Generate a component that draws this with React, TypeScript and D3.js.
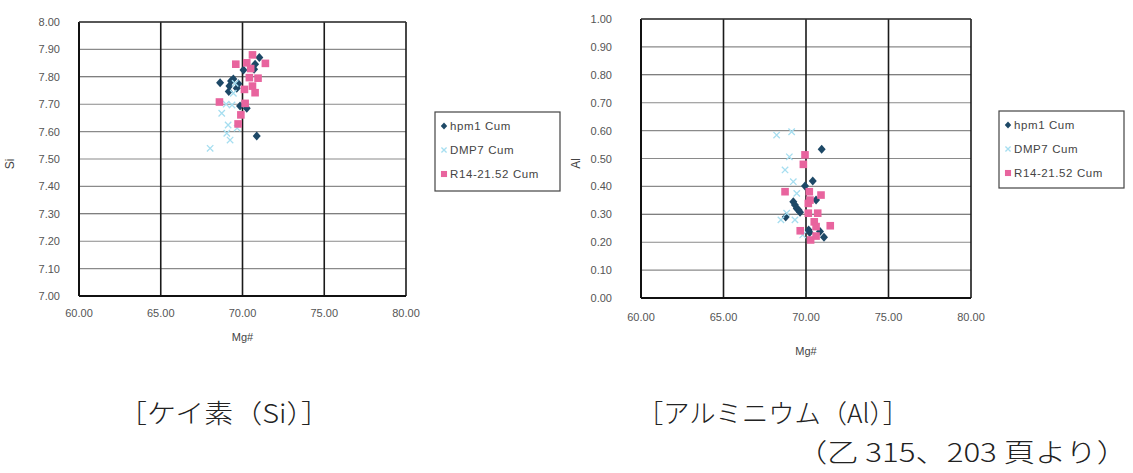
import { useEffect, useRef } from "react";
import * as d3 from "d3";

// Mg# ticks shared by both panels
const mgTicks = [60, 65, 70, 75, 80];
const siTicks = [7.0, 7.1, 7.2, 7.3, 7.4, 7.5, 7.6, 7.7, 7.8, 7.9, 8.0];
const alTicks = [0.0, 0.1, 0.2, 0.3, 0.4, 0.5, 0.6, 0.7, 0.8, 0.9, 1.0];
const seriesNames = ["hpm1 Cum", "DMP7 Cum", "R14-21.52 Cum"];

// [Mg#, Si]
const siHpm1: [number, number][] = [
  [71.03, 7.87], [70.77, 7.846], [70.71, 7.828], [70.06, 7.825], [68.63, 7.778],
  [69.44, 7.792], [69.2, 7.766], [69.65, 7.758], [69.16, 7.746], [69.85, 7.693],
  [70.26, 7.685], [70.87, 7.584], [69.3, 7.785], [69.75, 7.775],
];
const siDmp7: [number, number][] = [
  [68.02, 7.539], [69.04, 7.594], [69.24, 7.569], [68.73, 7.667], [69.44, 7.74],
  [69.55, 7.776], [69.12, 7.624], [69.36, 7.697], [69.67, 7.613], [69.0, 7.7],
];
const siR14: [number, number][] = [
  [70.61, 7.88], [69.59, 7.846], [70.26, 7.851], [71.4, 7.849], [70.42, 7.797],
  [70.12, 7.754], [70.61, 7.766], [70.77, 7.742], [68.59, 7.708], [70.16, 7.703],
  [69.9, 7.661], [69.73, 7.628], [70.95, 7.795], [70.5, 7.83],
];

// [Mg#, Al]
const alHpm1: [number, number][] = [
  [70.95, 0.533], [70.41, 0.419], [69.94, 0.401], [69.23, 0.345], [69.33, 0.333],
  [69.44, 0.321], [69.64, 0.307], [68.77, 0.29], [70.61, 0.351], [70.16, 0.244],
  [70.22, 0.235], [70.85, 0.238], [71.09, 0.218], [69.55, 0.315],
];
const alDmp7: [number, number][] = [
  [69.13, 0.596], [68.22, 0.584], [68.99, 0.506], [68.73, 0.459], [69.23, 0.417],
  [69.44, 0.375], [68.48, 0.28], [69.33, 0.28], [68.83, 0.304], [69.8, 0.226],
];
const alR14: [number, number][] = [
  [69.94, 0.513], [69.84, 0.479], [68.73, 0.381], [70.2, 0.381], [70.91, 0.369],
  [70.24, 0.351], [70.14, 0.339], [70.14, 0.304], [70.71, 0.304], [70.5, 0.273],
  [70.61, 0.256], [71.47, 0.259], [69.65, 0.241], [70.28, 0.208], [70.61, 0.222],
];

const NAVY = "#1d4866";
const CYAN = "#a6def0";
const PINK = "#e8649e";
const FONT = "'Liberation Sans', Arial, sans-serif";

type Panel = {
  left: number; right: number; top: number; bottom: number;
  yTicks: number[]; yDomain: [number, number];
  yLabel: string; yLabelX: number; tickLabelX: number;
  xLabelY: number; xTickY: number;
  legend: { x: number; y: number; w: number; h: number };
  series: [number, number][][];
};

const panels: Panel[] = [
  {
    left: 79, right: 406, top: 22, bottom: 296,
    yTicks: siTicks, yDomain: [7, 8], yLabel: "Si", yLabelX: 14, tickLabelX: 60,
    xLabelY: 337, xTickY: 313,
    legend: { x: 435, y: 112, w: 125, h: 79 },
    series: [siHpm1, siDmp7, siR14],
  },
  {
    left: 641, right: 971, top: 19, bottom: 298,
    yTicks: alTicks, yDomain: [0, 1], yLabel: "Al", yLabelX: 580, tickLabelX: 612,
    xLabelY: 351, xTickY: 317,
    legend: { x: 999, y: 111, w: 125, h: 77 },
    series: [alHpm1, alDmp7, alR14],
  },
];

function drawMarker(g: d3.Selection<SVGGElement, unknown, null, undefined>, kind: number, x: number, y: number, s = 1) {
  if (kind === 0) {
    g.append("path")
      .attr("d", `M${x},${y - 4.5 * s}L${x + 4 * s},${y}L${x},${y + 4.5 * s}L${x - 4 * s},${y}Z`)
      .attr("fill", NAVY);
  } else if (kind === 1) {
    const r = 3.2 * s;
    g.append("path")
      .attr("d", `M${x - r},${y - r}L${x + r},${y + r}M${x - r},${y + r}L${x + r},${y - r}`)
      .attr("stroke", CYAN)
      .attr("stroke-width", 1.3)
      .attr("fill", "none");
  } else {
    const r = 3.8 * s;
    g.append("rect")
      .attr("x", x - r).attr("y", y - r)
      .attr("width", 2 * r).attr("height", 2 * r)
      .attr("fill", PINK);
  }
}

export default function App() {
  const svgRef = useRef<SVGSVGElement | null>(null);

  useEffect(() => {
    if (!svgRef.current) return;
    const svg = d3.select(svgRef.current);
    svg.selectAll("*").remove();

    panels.forEach((p) => {
      const x = d3.scaleLinear().domain([60, 80]).range([p.left, p.right]);
      const y = d3.scaleLinear().domain(p.yDomain).range([p.bottom, p.top]);
      const g = svg.append("g");

      // horizontal gridlines (grey)
      g.selectAll(".hgrid")
        .data(p.yTicks)
        .enter()
        .append("line")
        .attr("x1", p.left).attr("x2", p.right)
        .attr("y1", (d) => y(d)).attr("y2", (d) => y(d))
        .attr("stroke", (d, i) => (i % 5 === 3 ? "#555" : "#8a8a8a"))
        .attr("stroke-width", 1.1);

      // vertical gridlines (black)
      g.selectAll(".vgrid")
        .data(mgTicks)
        .enter()
        .append("line")
        .attr("x1", (d) => x(d)).attr("x2", (d) => x(d))
        .attr("y1", p.top).attr("y2", p.bottom)
        .attr("stroke", "#1a1a1a")
        .attr("stroke-width", 1.6);

      // axes
      g.append("line")
        .attr("x1", p.left).attr("x2", p.right)
        .attr("y1", p.bottom).attr("y2", p.bottom)
        .attr("stroke", "#111").attr("stroke-width", 2);
      g.append("line")
        .attr("x1", p.left).attr("x2", p.left)
        .attr("y1", p.top).attr("y2", p.bottom)
        .attr("stroke", "#111").attr("stroke-width", 2);
      g.append("line")
        .attr("x1", p.left).attr("x2", p.right)
        .attr("y1", p.top).attr("y2", p.top)
        .attr("stroke", "#333").attr("stroke-width", 1.3);

      // tick labels
      g.selectAll(".ytl")
        .data(p.yTicks)
        .enter()
        .append("text")
        .attr("x", p.tickLabelX)
        .attr("y", (d) => y(d) + 4)
        .attr("text-anchor", "end")
        .attr("font-family", FONT)
        .attr("font-size", 11)
        .attr("fill", "#555")
        .text((d) => d3.format(".2f")(d));

      g.selectAll(".xtl")
        .data(mgTicks)
        .enter()
        .append("text")
        .attr("x", (d) => x(d))
        .attr("y", p.xTickY + 4)
        .attr("text-anchor", "middle")
        .attr("font-family", FONT)
        .attr("font-size", 11)
        .attr("fill", "#555")
        .text((d) => d3.format(".2f")(d));

      // axis titles
      g.append("text")
        .attr("transform", `translate(${p.yLabelX},${(p.top + p.bottom) / 2 + 5}) rotate(-90)`)
        .attr("text-anchor", "middle")
        .attr("font-family", FONT)
        .attr("font-size", 12)
        .attr("fill", "#444")
        .text(p.yLabel);
      g.append("text")
        .attr("x", (p.left + p.right) / 2)
        .attr("y", p.xLabelY + 4)
        .attr("text-anchor", "middle")
        .attr("font-family", FONT)
        .attr("font-size", 11)
        .attr("fill", "#444")
        .text("Mg#");

      // points
      const pts = g.append("g");
      p.series.forEach((s, k) => {
        s.forEach((d) => drawMarker(pts, k, x(d[0]), y(d[1])));
      });

      // legend
      const lg = g.append("g");
      lg.append("rect")
        .attr("x", p.legend.x).attr("y", p.legend.y)
        .attr("width", p.legend.w).attr("height", p.legend.h)
        .attr("fill", "#fff")
        .attr("stroke", "#444")
        .attr("stroke-width", 1.2);
      seriesNames.forEach((name, k) => {
        const cy = p.legend.y + 14 + k * 24;
        drawMarker(lg, k, p.legend.x + 9, cy, 0.8);
        lg.append("text")
          .attr("x", p.legend.x + 15)
          .attr("y", cy + 4)
          .attr("font-family", FONT)
          .attr("font-size", 11.5)
          .attr("letter-spacing", 0.6)
          .attr("fill", "#444")
          .text(name);
      });
    });

    // captions
    const caps = [
      { t: "［ケイ素（Si）］", x: 118, y: 423, w: 212 },
      { t: "［アルミニウム（Al）］", x: 637, y: 423, w: 272 },
      { t: "（乙 315、203 頁より）", x: 796, y: 462, w: 332 },
    ];
    caps.forEach((c) => {
      svg.append("text")
        .attr("x", c.x)
        .attr("y", c.y)
        .attr("font-family", "'Noto Sans CJK JP', sans-serif")
        .attr("font-weight", 300)
        .attr("font-size", 26)
        .attr("fill", "#222")
        .attr("textLength", c.w)
        .attr("lengthAdjust", "spacingAndGlyphs")
        .text(c.t);
    });
  }, []);

  return (
    <svg
      ref={svgRef}
      width={1133}
      height={473}
      style={{ position: "absolute", left: 0, top: 0, background: "#fff", display: "block" }}
    />
  );
}
